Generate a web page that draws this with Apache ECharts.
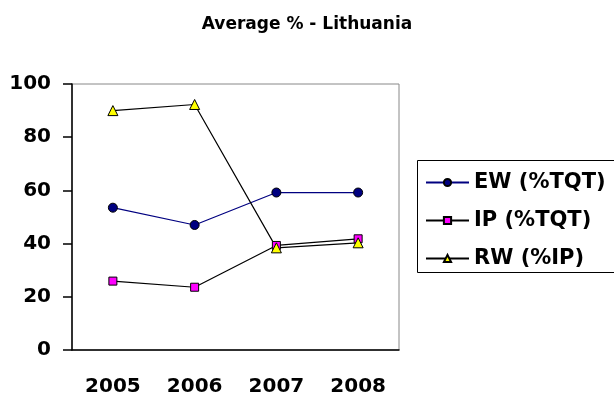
<!DOCTYPE html>
<html>
<head>
<meta charset="utf-8">
<script src="https://cdn.jsdelivr.net/npm/echarts@6/dist/echarts.min.js"></script>
<style>
  html, body { margin: 0; padding: 0; background: #fff; }
  #main { width: 614px; height: 401px; }
</style>
</head>
<body>
<div id="main"></div>
<script>
const years = ['2005', '2006', '2007', '2008'];
const ewValues = [53.5, 47, 59.2, 59.2];
const ipValues = [25.9, 23.6, 39.3, 41.8];
const rwValues = [90, 92.3, 38.4, 40.3];

const font = 'DejaVu Sans';

let myChart = echarts.init(document.getElementById('main'));

let option = {
  backgroundColor: '#fff',
  animation: false,
  title: {
    text: 'Average % - Lithuania',
    left: 'center',
    top: 11,
    textStyle: { fontFamily: font, fontWeight: 'bold', fontSize: 17, color: '#000' }
  },
  // legend frame runs off the right edge, as in the original
  graphic: [
    {
      type: 'rect',
      z: -1,
      shape: { x: 417.5, y: 160.5, width: 240, height: 112 },
      style: { fill: '#fff', stroke: '#000', lineWidth: 1 }
    }
  ],
  legend: {
    orient: 'vertical',
    left: 417,
    top: 160,
    padding: [12, 8, 6, 8],
    itemGap: 17,
    itemWidth: 43,
    itemHeight: 9,
    textStyle: { fontFamily: font, fontWeight: 'bold', fontSize: 21, color: '#000' },
    data: ['EW (%TQT)', 'IP (%TQT)', 'RW (%IP)']
  },
  grid: {
    left: 72,
    right: 215,
    top: 84,
    bottom: 51,
    show: true,
    borderColor: '#888',
    borderWidth: 1
  },
  xAxis: {
    type: 'category',
    data: years,
    boundaryGap: true,
    axisLine: { lineStyle: { color: '#000', width: 1.5 } },
    axisTick: { length: 7, lineStyle: { color: '#000', width: 1.5 } },
    axisLabel: { margin: 27, fontFamily: font, fontWeight: 'bold', fontSize: 20, color: '#000' },
    splitLine: { show: false }
  },
  yAxis: {
    type: 'value',
    min: 0,
    max: 100,
    interval: 20,
    axisLine: { show: true, lineStyle: { color: '#000', width: 1.5 } },
    axisTick: { show: true, length: 9, lineStyle: { color: '#000', width: 1.5 } },
    axisLabel: { margin: 21, fontFamily: font, fontWeight: 'bold', fontSize: 20, color: '#000' },
    splitLine: { show: false }
  },
  series: [
    {
      name: 'EW (%TQT)',
      type: 'line',
      data: ewValues,
      symbol: 'circle',
      symbolSize: 9,
      lineStyle: { color: '#000080', width: 1.2 },
      itemStyle: { color: '#000080', borderColor: '#000', borderWidth: 1 }
    },
    {
      name: 'IP (%TQT)',
      type: 'line',
      data: ipValues,
      symbol: 'rect',
      symbolSize: 8,
      lineStyle: { color: '#000', width: 1.2 },
      itemStyle: { color: '#ff00ff', borderColor: '#000', borderWidth: 1 }
    },
    {
      name: 'RW (%IP)',
      type: 'line',
      data: rwValues,
      symbol: 'triangle',
      symbolSize: 10,
      lineStyle: { color: '#000', width: 1.2 },
      itemStyle: { color: '#ffff00', borderColor: '#000', borderWidth: 1 }
    }
  ]
};

myChart.setOption(option);
</script>
</body>
</html>
